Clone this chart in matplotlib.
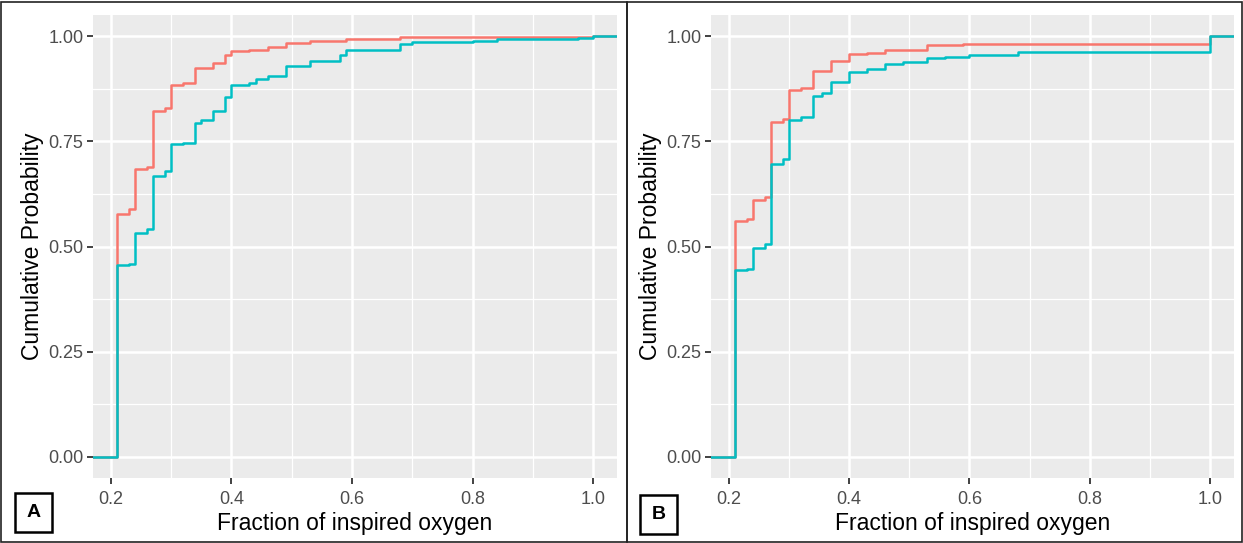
import matplotlib
matplotlib.use("Agg")
import matplotlib.pyplot as plt
from matplotlib.patches import Rectangle

plt.rcParams["font.family"] = ["Liberation Sans", "DejaVu Sans"]

# Panel A: step positions (FiO2) and cumulative probability after each step
a_red_x = [0.21, 0.23, 0.24, 0.26, 0.27, 0.29, 0.30, 0.32, 0.34, 0.37, 0.39,
           0.40, 0.43, 0.46, 0.49, 0.53, 0.59, 0.68, 1.00]
a_red_y = [0.577, 0.590, 0.684, 0.690, 0.822, 0.830, 0.884, 0.888, 0.923, 0.937,
           0.955, 0.965, 0.968, 0.975, 0.984, 0.989, 0.993, 0.997, 1.0]
a_cyan_x = [0.21, 0.23, 0.24, 0.26, 0.27, 0.29, 0.30, 0.32, 0.34, 0.35, 0.37,
            0.39, 0.40, 0.43, 0.44, 0.46, 0.49, 0.53, 0.58, 0.59, 0.68, 0.70,
            0.80, 0.84, 0.975, 1.00]
a_cyan_y = [0.456, 0.458, 0.533, 0.541, 0.667, 0.680, 0.743, 0.747, 0.794, 0.800,
            0.821, 0.856, 0.884, 0.889, 0.897, 0.906, 0.929, 0.941, 0.955, 0.967,
            0.982, 0.986, 0.989, 0.992, 0.996, 1.0]

# Panel B
b_red_x = [0.21, 0.23, 0.24, 0.26, 0.27, 0.29, 0.30, 0.32, 0.34, 0.37, 0.40,
           0.43, 0.46, 0.53, 0.59, 0.68, 1.00]
b_red_y = [0.561, 0.565, 0.610, 0.618, 0.795, 0.804, 0.873, 0.876, 0.917, 0.941,
           0.957, 0.960, 0.967, 0.979, 0.981, 0.982, 1.0]
b_cyan_x = [0.21, 0.23, 0.24, 0.26, 0.27, 0.29, 0.30, 0.32, 0.34, 0.355, 0.37,
            0.40, 0.43, 0.46, 0.49, 0.53, 0.56, 0.60, 0.68, 1.00]
b_cyan_y = [0.444, 0.446, 0.496, 0.506, 0.697, 0.709, 0.800, 0.807, 0.857, 0.864,
            0.891, 0.915, 0.921, 0.933, 0.939, 0.948, 0.951, 0.955, 0.962, 1.0]

x_ticks = [0.2, 0.4, 0.6, 0.8, 1.0]
x_minor = [0.3, 0.5, 0.7, 0.9]
y_ticks = [0.0, 0.25, 0.50, 0.75, 1.00]
y_minor = [0.125, 0.375, 0.625, 0.875]
XLIM = (0.1705, 1.0395)
YLIM = (-0.05, 1.05)

RED = "#F8766D"
CYAN = "#00BFC4"
W, H = 1243, 543


def ecdf_line(ax, xs, ys, color):
    x = [XLIM[0]] + xs + [XLIM[1]]
    y = [0.0] + ys + [ys[-1]]
    ax.step(x, y, where="post", color=color, linewidth=1.8, zorder=3)


def style_axes(ax):
    ax.set_facecolor("#EBEBEB")
    ax.set_xlim(*XLIM)
    ax.set_ylim(*YLIM)
    for v in x_minor:
        ax.axvline(v, color="white", linewidth=0.9, zorder=1)
    for v in y_minor:
        ax.axhline(v, color="white", linewidth=0.9, zorder=1)
    for v in x_ticks:
        ax.axvline(v, color="white", linewidth=1.8, zorder=1)
    for v in y_ticks:
        ax.axhline(v, color="white", linewidth=1.8, zorder=1)
    ax.set_xticks(x_ticks)
    ax.set_xticklabels([f"{v:.1f}" for v in x_ticks])
    ax.set_yticks(y_ticks)
    ax.set_yticklabels([f"{v:.2f}" for v in y_ticks])
    ax.tick_params(axis="both", colors="#333333", labelcolor="#4D4D4D",
                   labelsize=13, length=4, width=1.3, pad=3)
    ax.tick_params(axis="x", pad=5)
    for s in ax.spines.values():
        s.set_visible(False)
    ax.set_xlabel("Fraction of inspired oxygen", fontsize=16.5, labelpad=3)
    ax.set_ylabel("Cumulative Probability", fontsize=16.5, labelpad=3)


fig = plt.figure(figsize=(W / 100, H / 100), dpi=100)

ax_a = fig.add_axes([93 / W, 1 - 478 / H, (617 - 93) / W, (478 - 15) / H])
style_axes(ax_a)
ecdf_line(ax_a, a_red_x, a_red_y, RED)
ecdf_line(ax_a, a_cyan_x, a_cyan_y, CYAN)

ax_b = fig.add_axes([711 / W, 1 - 478 / H, (1234 - 711) / W, (478 - 15) / H])
style_axes(ax_b)
ecdf_line(ax_b, b_red_x, b_red_y, RED)
ecdf_line(ax_b, b_cyan_x, b_cyan_y, CYAN)

# panel frames
for x0, x1 in [(1, 627), (627, 1242)]:
    fig.patches.append(Rectangle((x0 / W, 1.5 / H), (x1 - x0) / W, (H - 3) / H,
                                 transform=fig.transFigure, fill=False,
                                 edgecolor="#222222", linewidth=1.2))

# panel letters
for label, x0, y0 in [("A", 15, 493), ("B", 640, 495)]:
    fig.patches.append(Rectangle((x0 / W, 1 - (y0 + 39) / H), 37 / W, 39 / H,
                                 transform=fig.transFigure, fill=False,
                                 edgecolor="black", linewidth=1.8))
    fig.text((x0 + 18.5) / W, 1 - (y0 + 19.5) / H, label, ha="center",
             va="center", fontsize=14, fontweight="bold")

fig.savefig("out.png", dpi=100)
